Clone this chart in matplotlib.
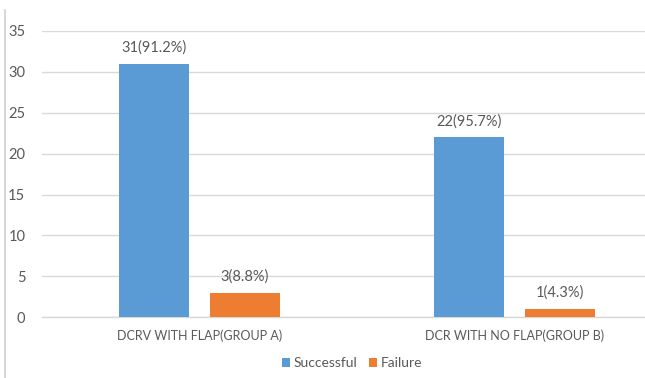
import matplotlib
matplotlib.use("Agg")
import matplotlib.pyplot as plt
from matplotlib.lines import Line2D
import numpy as np

# datos del gráfico
groups = ["DCRV WITH FLAP(GROUP A)", "DCR WITH NO FLAP(GROUP B)"]
successful = [31, 22]
failure = [3, 1]
successful_labels = ["31(91.2%)", "22(95.7%)"]
failure_labels = ["3(8.8%)", "1(4.3%)"]
yticks = [0, 5, 10, 15, 20, 25, 30, 35]

plt.rcParams["font.family"] = ["Lato", "DejaVu Sans"]
TEXT = "#595959"
BLUE = "#5B9BD5"
ORANGE = "#ED7D31"

fig = plt.figure(figsize=(6.45, 3.78), dpi=100)
ax = fig.add_axes([0.065, 0.161, 0.935, 0.757])

x = np.arange(len(groups))
w = 0.222
off = 0.144
b1 = ax.bar(x - off, successful, w, color=BLUE, label="Successful", zorder=3)
b2 = ax.bar(x + off, failure, w, color=ORANGE, label="Failure", zorder=3)

for rect, lab in zip(b1, successful_labels):
    ax.text(rect.get_x() + rect.get_width() / 2, rect.get_height() + 1.1, lab,
            ha="center", va="bottom", fontsize=10.5, color=TEXT)
for rect, lab in zip(b2, failure_labels):
    ax.text(rect.get_x() + rect.get_width() / 2, rect.get_height() + 1.1, lab,
            ha="center", va="bottom", fontsize=10.5, color=TEXT)

ax.set_xlim(-0.5, 1.413)
ax.set_ylim(0, 35)
ax.set_yticks(yticks)
ax.set_xticks(x)
ax.set_xticklabels(groups)
ax.tick_params(length=0, colors=TEXT)
ax.tick_params(axis="x", pad=9, labelsize=9)
ax.tick_params(axis="y", pad=12, labelsize=10.5)
ax.grid(axis="y", color="#D9D9D9", linewidth=1, zorder=0)
ax.axhline(0, color="#D9D9D9", linewidth=1, zorder=1, clip_on=False)
for s in ax.spines.values():
    s.set_visible(False)

ax.legend(loc="lower center", bbox_to_anchor=(0.514, -0.225), ncol=2, frameon=False,
          fontsize=10, labelcolor=TEXT, handlelength=0.6, handleheight=0.6,
          handletextpad=0.25, columnspacing=0.8)

# borde izquierdo del marco
fig.add_artist(Line2D([5 / 645, 5 / 645], [0, 1 - 10 / 378], color="#D0D0D0", linewidth=1.2))

fig.savefig("out.png", dpi=100)
